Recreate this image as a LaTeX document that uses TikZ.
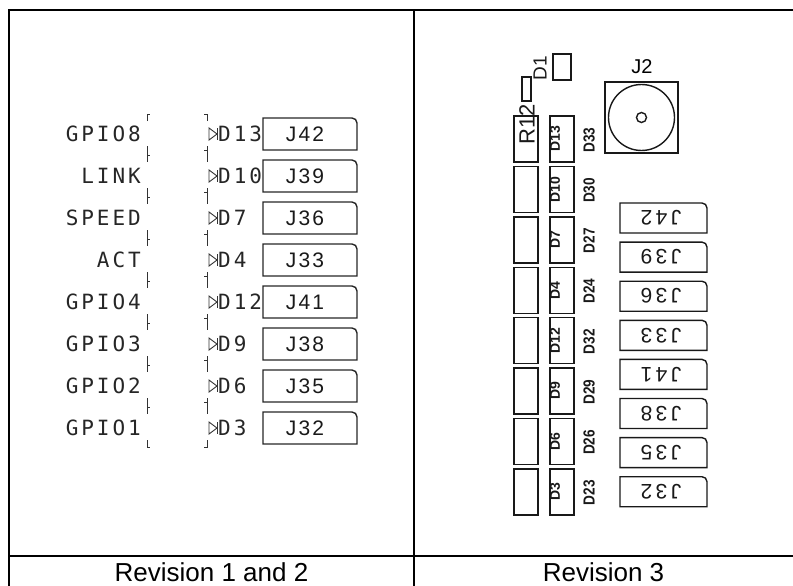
\documentclass[tikz,border=0pt]{standalone}
\usepackage{fontspec}
\usepackage{graphicx}
\setmainfont{Liberation Sans}
\newfontfamily\plotfont{DejaVu Sans Mono}[LetterSpace=14]
\newfontfamily\jfont{Liberation Sans}[LetterSpace=10]
\newfontfamily\jrfont{Liberation Sans}[LetterSpace=16]
\begin{document}
\begin{tikzpicture}[x=1pt,y=-1pt,
  frame/.style={line width=2pt,black},
  comp/.style={line width=1.4pt,black!85},
  pcb/.style={line width=1.4pt,black!90},
  brk/.style={line width=0.9pt,black!80},
  sig/.style={font=\plotfont\fontsize{21}{21}\selectfont,text=black!85,inner sep=0pt},
  jl/.style={font=\jfont\fontsize{21}{21}\selectfont,text=black!90,inner sep=0pt},
  jr/.style={font=\jrfont\fontsize{21}{21}\selectfont,text=black!90,inner sep=0pt,rotate=180},
  captxt/.style={font=\fontsize{26}{26}\selectfont,inner sep=0pt},
  rot/.style={inner sep=0pt,rotate=90,text=black!90}
]
\useasboundingbox (0,0) rectangle (793,586);
% frame
\draw[frame] (9,590) -- (9,10) -- (800,10);
\draw[frame] (414,10) -- (414,590);
\draw[frame] (9,556) -- (800,556);
\node[captxt] (c1) at (211.5,572) {Revision 1 and 2};
\node[captxt] (c2) at (603.5,572) {Revision 3};
% ---- left panel
\foreach \sname/\dname/\jname [count=\i from 0] in
  {GPIO8/D13/J42,LINK/D10/J39,SPEED/D7/J36,ACT/D4/J33,GPIO4/D12/J41,GPIO3/D9/J38,GPIO2/D6/J35,GPIO1/D3/J32}{
  \pgfmathsetmacro\yy{134+42*\i}
  \node[sig,anchor=east] (sig\i) at (141,\yy) {\sname};
  \node[sig,anchor=west] (dl\i) at (218,\yy) {\dname};
  \draw[comp] (263,\yy-16) -- (352,\yy-16) arc[start angle=90,end angle=0,radius=5pt] -- (357,\yy+16) -- (263,\yy+16) -- cycle;
  \node[jl] (jl\i) at (305,\yy) {\jname};
  \draw[brk] (209,\yy-6) -- (217,\yy) -- (209,\yy+6) -- cycle;
  \draw[brk] (217,\yy-6) -- (217,\yy+6);
}
% brackets
\draw[brk] (147,121) -- (147,114) -- (150,114);
\draw[brk] (147,440) -- (147,447) -- (150,447);
\draw[brk] (207,121) -- (207,114) -- (204,114);
\draw[brk] (207,440) -- (207,447) -- (204,447);
\foreach \i in {0,...,6}{
  \pgfmathsetmacro\bb{155+42*\i}
  \draw[brk] (147,\bb-9) -- (147,\bb+7);
  \draw[brk] (147,\bb) -- (150,\bb);
  \draw[brk] (207,\bb-9) -- (207,\bb+7);
  \draw[brk] (207,\bb-5) -- (204,\bb-5);
}
% ---- right panel
\draw[pcb] (553,54) rectangle (571,80);
\node[rot,font=\fontsize{19}{19}\selectfont] (d1) at (540,68) {D1};
\draw[pcb] (522,77) rectangle (531,101);
\node[rot,font=\fontsize{22}{22}\selectfont] (r12) at (527,124) {R12};
\draw[pcb] (605,82) rectangle (678,153);
\draw[pcb] (641.5,117.5) circle[radius=33pt];
\draw[pcb] (641.5,117.5) circle[radius=5pt];
\node[font=\fontsize{20}{20}\selectfont,inner sep=0pt] (j2) at (642,67) {J2};
\foreach \din/\dout [count=\i from 0] in {D13/D33,D10/D30,D7/D27,D4/D24,D12/D32,D9/D29,D6/D26,D3/D23}{
  \pgfmathsetmacro\tt{116+50.4*\i}
  \draw[pcb] (514,\tt) rectangle (538,\tt+46);
  \draw[pcb] (550,\tt) rectangle (574,\tt+46);
  \node[rot,font=\bfseries\fontsize{14}{14}\selectfont] (di\i) at (555,\tt+23) {\din};
  \node[rot,font=\bfseries\fontsize{16}{16}\selectfont] (do\i) at (589,\tt+24) {\scalebox{0.85}[1]{\dout}};
}
\foreach \jname [count=\i from 0] in {J42,J39,J36,J33,J41,J38,J35,J32}{
  \pgfmathsetmacro\tt{203+39.1*\i}
  \draw[pcb] (620,\tt) -- (702,\tt) arc[start angle=90,end angle=0,radius=5pt] -- (707,\tt+30) -- (620,\tt+30) -- cycle;
  \node[jr] (jr\i) at (661,\tt+15) {\jname};
}
\end{tikzpicture}
\end{document}
